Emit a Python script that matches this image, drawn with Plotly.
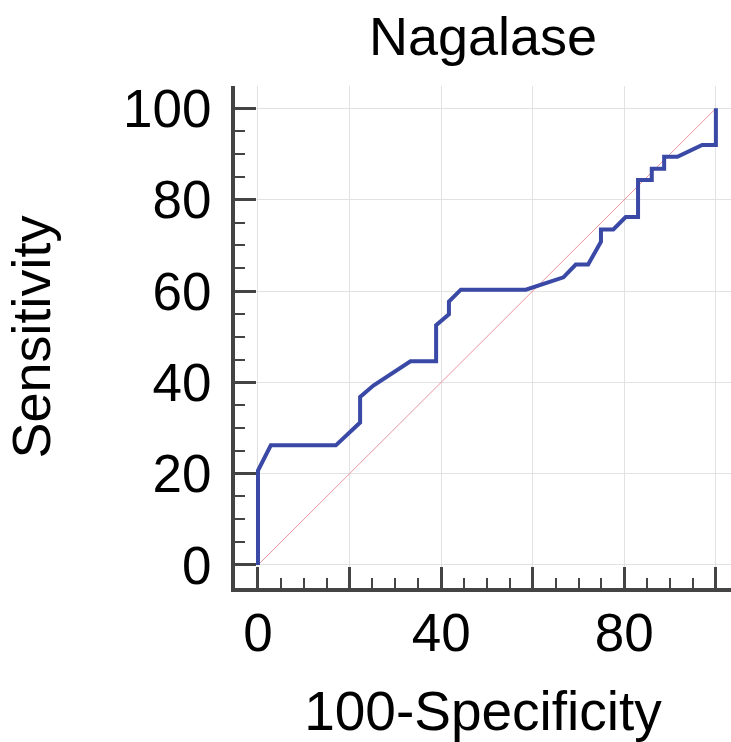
import plotly.graph_objects as go

# ROC curve points (100-Specificity, Sensitivity)
fpr = [0, 0, 2.8, 17.0, 22.3, 22.3, 25.2, 33.3, 38.9, 38.9, 41.7, 41.7, 44.3, 58.5,
       66.7, 69.4, 72.1, 74.9, 74.9, 77.6, 80.3, 83.0, 83.0, 86.0, 86.0, 88.7, 88.7,
       91.6, 97.0, 100, 100]
tpr = [0, 20.7, 26.2, 26.2, 31.2, 36.8, 39.3, 44.6, 44.6, 52.5, 54.9, 57.7, 60.3, 60.3,
       63.0, 65.8, 65.8, 70.8, 73.5, 73.5, 76.2, 76.2, 84.3, 84.3, 86.8, 86.8, 89.4,
       89.4, 92.0, 92.0, 100]

diag_x = [0, 100]
diag_y = [0, 100]

x_tickvals = [0, 20, 40, 60, 80, 100]
x_ticktext = ["0", "", "40", "", "80", ""]
y_tickvals = [0, 20, 40, 60, 80, 100]
y_ticktext = ["0", "20", "40", "60", "80", "100"]

FONT = "Liberation Sans, Arial, sans-serif"
AX = "#444444"

fig = go.Figure()
fig.add_trace(go.Scatter(x=diag_x, y=diag_y, mode="lines",
                         line=dict(color="#e8949e", width=1), hoverinfo="skip"))
fig.add_trace(go.Scatter(x=fpr, y=tpr, mode="lines",
                         line=dict(color="#3a48a6", width=4)))

common = dict(
    ticks="inside", ticklen=21, tickwidth=3, tickcolor=AX,
    showline=True, linewidth=4, linecolor=AX,
    showgrid=True, gridcolor="#e2e2e2", gridwidth=1,
    zeroline=False, automargin=False,
    tickfont=dict(family=FONT, size=53, color="black"),
    minor=dict(dtick=5, tick0=0, ticks="inside", ticklen=10, tickwidth=2,
               tickcolor=AX, showgrid=False),
)

fig.update_layout(
    width=731, height=742,
    margin=dict(l=235, r=0, t=86, b=154, autoexpand=False),
    paper_bgcolor="white", plot_bgcolor="white",
    showlegend=False,
    font=dict(family=FONT, color="black"),
    title=dict(text="Nagalase", font=dict(family=FONT, size=54, color="black"),
               x=0.5, xref="paper", xanchor="center",
               y=1 - 36 / 742, yref="container", yanchor="middle",
               automargin=False),
    xaxis=dict(range=[-5.02, 103.3], tickmode="array", tickvals=x_tickvals,
               ticktext=x_ticktext, ticklabelstandoff=-5,
               title=dict(text="100-Specificity", font=dict(family=FONT, size=55),
                          standoff=33),
               **common),
    yaxis=dict(range=[-5.04, 104.9], tickmode="array", tickvals=y_tickvals,
               ticktext=y_ticktext, ticklabelstandoff=9,
               title=dict(text="Sensitivity", font=dict(family=FONT, size=54),
                          standoff=56),
               **common),
)

fig.write_html("out.html",
               config={"displayModeBar": False},
               post_script="document.body.style.margin='0px';document.body.style.overflow='hidden';")
